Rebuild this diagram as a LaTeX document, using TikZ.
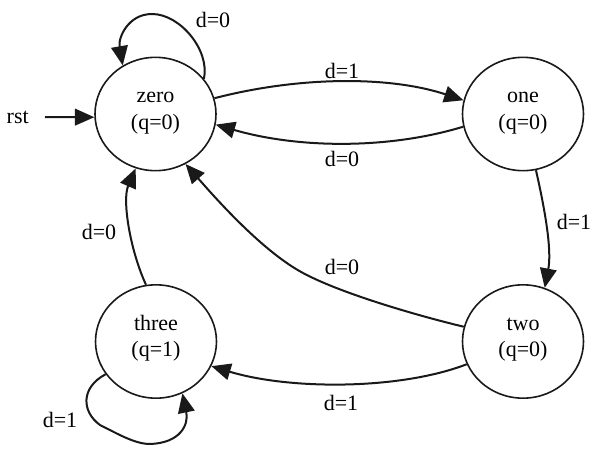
\documentclass[tikz,border=0pt]{standalone}
\usepackage{fontspec}
\setmainfont{Liberation Serif}
\usetikzlibrary{arrows.meta,shapes.geometric}
\newcommand{\firstline}{\rule{0pt}{11.25pt}}
\newcommand{\lastline}{\rule[-8.5pt]{0pt}{8.5pt}}
\begin{document}
\begin{tikzpicture}[x=0.75pt,y=-0.75pt,
  txt/.style={font=\fontsize{16.5}{20}\selectfont},
  state/.style={txt, draw=black!90, line width=1.2pt, ellipse, inner sep=0pt,
    minimum width=90.75pt, minimum height=85pt, align=center},
  lbl/.style={txt, inner sep=0pt},
  edge/.style={draw=black!90, line width=1.5pt,
    -{Triangle[length=14.5pt,width=12.5pt]}}]
\useasboundingbox (0,0) rectangle (597,458);

\node[state] (zero)  at (155.5,114)   {\firstline zero\\(q=0)\lastline};
\node[state] (one)   at (523,114)     {\firstline one\\(q=0)\lastline};
\node[state] (two)   at (523,341.5)   {\firstline two\\(q=0)\lastline};
\node[state] (three) at (156,341.5)   {\firstline three\\(q=1)\lastline};

\node[lbl, anchor=east, inner xsep=12pt] (rst) at (45,117) {rst};

% rst -> zero
\draw[edge] (rst.east) -- (zero.183);

% zero self loop
\draw[edge] (zero.36) .. controls (210,50) and (180,14) .. (152,14)
  .. controls (128,14) and (118,38) .. (zero.124);
\node[lbl] (l00) at (213,20) {d=0};

% zero -> one
\draw[edge] (zero.15) .. controls (300,76) and (390,76) .. (one.167);
\node[lbl] (l01) at (342,70.5) {d=1};

% one -> zero
\draw[edge] (one.192) .. controls (390,149) and (300,149) .. (zero.-10.5);
\node[lbl] (l10) at (342,159) {d=0};

% one -> two
\draw[edge] (one.-77) .. controls (545,210) and (552,250) .. (two.68);
\node[lbl] (l12) at (574,222) {d=1};

% two -> zero
\coordinate (m20) at (303,273);
\draw[edge] (two.166) .. controls (423,317) and (343,294.5) .. (m20)
  .. controls (263,251.5) and (218,201) .. (zero.-59);
\node[lbl] (l20) at (342,267) {d=0};

% two -> three
\draw[edge] (two.202) .. controls (400,390) and (290,390) .. (three.-24);
\node[lbl] (l23) at (341,403) {d=1};

% three -> zero
\draw[edge] (three.100) .. controls (130,250) and (122,200) .. (zero.-110);
\node[lbl] (l30) at (99,232) {d=0};

% three self loop
\draw[edge] (three.213) .. controls (80,388) and (82,412) .. (100,425)
  .. controls (118,434) and (135,444) .. (150,444)
  .. controls (180,443) and (189,425) .. (three.-63);
\node[lbl] (l33) at (60,420) {d=1};
\end{tikzpicture}
\end{document}
